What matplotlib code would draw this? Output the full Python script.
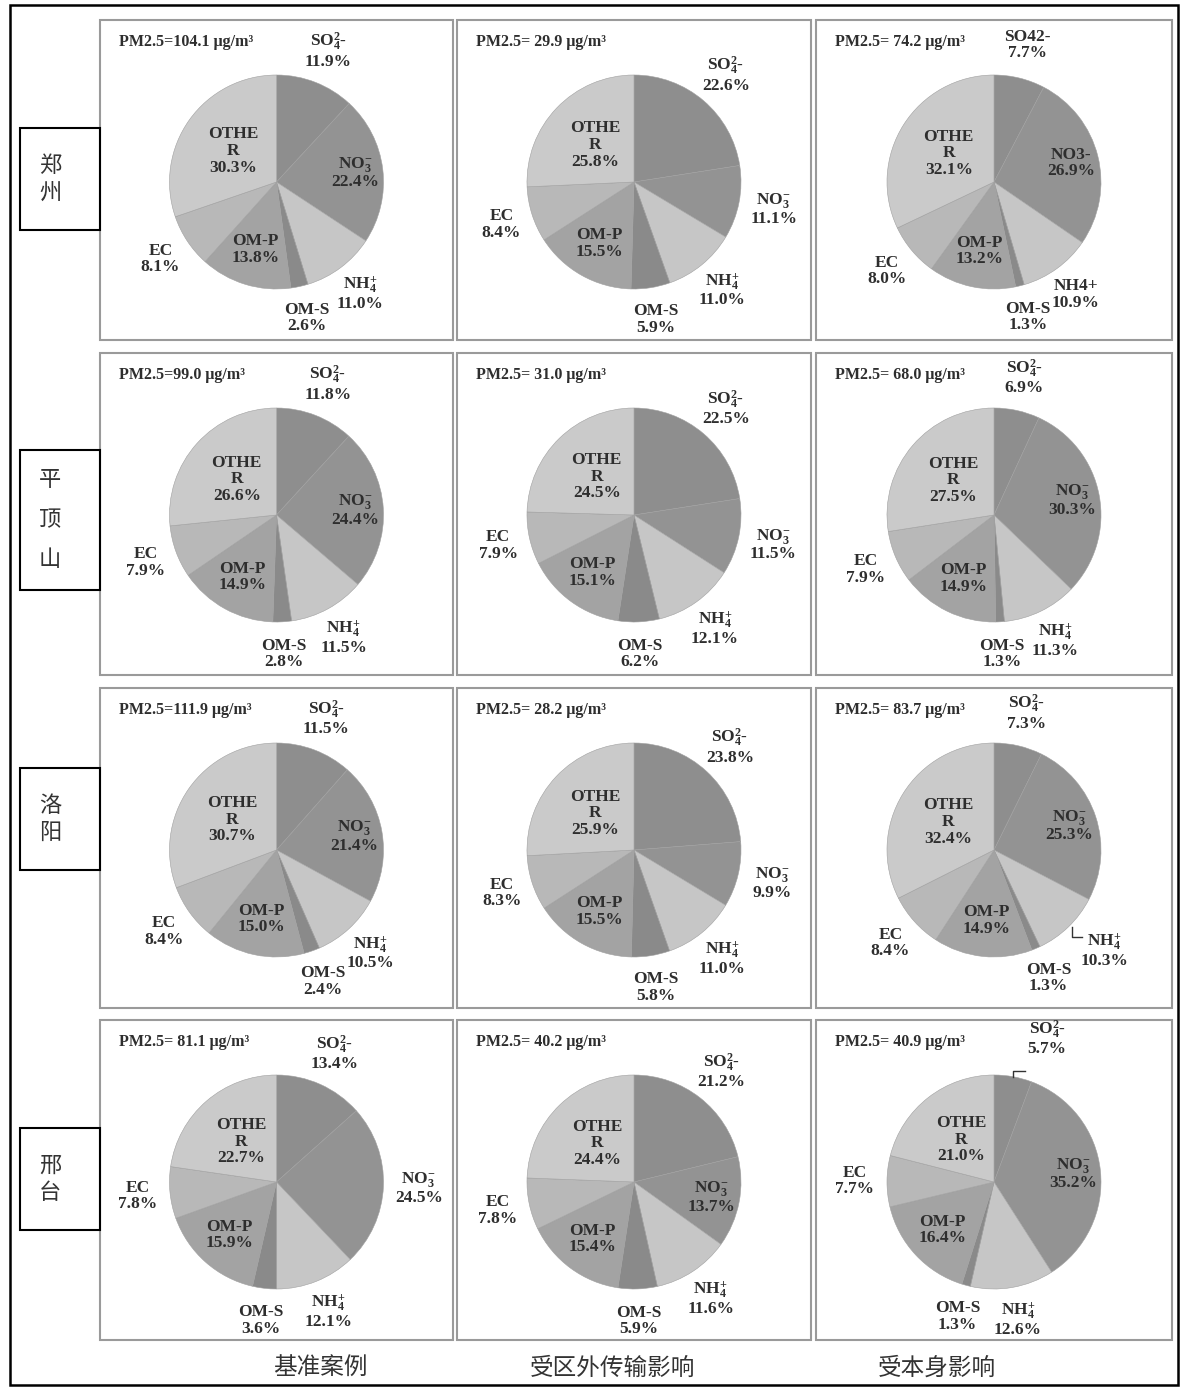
import numpy as np
import matplotlib.pyplot as plt
from matplotlib.patches import Rectangle

plt.rcParams['font.family'] = ['Liberation Serif', 'DejaVu Serif']
plt.rcParams['mathtext.fontset'] = 'custom'
plt.rcParams['mathtext.rm'] = 'Liberation Serif:bold'
plt.rcParams['mathtext.it'] = 'Liberation Serif:italic:bold'
plt.rcParams['mathtext.bf'] = 'Liberation Serif:bold'

# ---- data ----
cities = ['郑州', '平顶山', '洛阳', '邢台']
cases = ['基准案例', '受区外传输影响', '受本身影响']
components = ['SO4', 'NO3', 'NH4', 'OM-S', 'OM-P', 'EC', 'OTHER']

pm25_zhengzhou = [104.1, 29.9, 74.2]
pm25_pingdingshan = [99.0, 31.0, 68.0]
pm25_luoyang = [111.9, 28.2, 83.7]
pm25_xingtai = [81.1, 40.2, 40.9]

# shares in % (SO4, NO3, NH4, OM-S, OM-P, EC, OTHER) for each case
zhengzhou = [[11.9, 22.4, 11.0, 2.6, 13.8, 8.1, 30.3],
             [22.6, 11.1, 11.0, 5.9, 15.5, 8.4, 25.8],
             [7.7, 26.9, 10.9, 1.3, 13.2, 8.0, 32.1]]
pingdingshan = [[11.8, 24.4, 11.5, 2.8, 14.9, 7.9, 26.6],
                [22.5, 11.5, 12.1, 6.2, 15.1, 7.9, 24.5],
                [6.9, 30.3, 11.3, 1.3, 14.9, 7.9, 27.5]]
luoyang = [[11.5, 21.4, 10.5, 2.4, 15.0, 8.4, 30.7],
           [23.8, 9.9, 11.0, 5.8, 15.5, 8.3, 25.9],
           [7.3, 25.3, 10.3, 1.3, 14.9, 8.4, 32.4]]
xingtai = [[13.4, 24.5, 12.1, 3.6, 15.9, 7.8, 22.7],
           [21.2, 13.7, 11.6, 5.9, 15.4, 7.8, 24.4],
           [5.7, 35.2, 12.6, 1.3, 16.4, 7.7, 21.0]]

shares = [zhengzhou, pingdingshan, luoyang, xingtai]
pm25 = [pm25_zhengzhou, pm25_pingdingshan, pm25_luoyang, pm25_xingtai]

# ---- style / layout ----
W, H = 1184, 1387
colors = ['#8e8e8e', '#939393', '#c6c6c6', '#8a8a8a', '#a3a3a3', '#b8b8b8', '#cacaca']
names = {'SO4': r'SO$_4^{2}$-', 'NO3': r'NO$_3^{-}$', 'NH4': r'NH$_4^{+}$',
         'OM-S': 'OM-S', 'OM-P': 'OM-P', 'EC': 'EC', 'OTHER': 'OTHE\nR'}
plain_names = {'SO4': 'SO42-', 'NO3': 'NO3-', 'NH4': 'NH4+'}
rfac = {'SO4': 1.32, 'NO3': 0.74, 'NH4': 1.3, 'OM-S': 1.3, 'OM-P': 0.66, 'EC': 1.3, 'OTHER': 0.5}
no3_outside = {(0, 1), (1, 1), (2, 1), (3, 0)}
leaders = {(2, 2, 'NH4'): (14, 0), (3, 2, 'SO4'): (28, 5)}

col_x = [(100, 453), (457, 811), (816, 1172)]
row_y = [(20, 340), (353, 675), (688, 1008), (1020, 1340)]
R = 107
txt_c = '#2e2e2e'


def Y(py):
    return H - py


fig = plt.figure(figsize=(W / 100, H / 100), dpi=100)
ax = fig.add_axes([0, 0, 1, 1])

for i in range(4):
    for j in range(3):
        vals = shares[i][j]
        x0, x1 = col_x[j]
        y0, y1 = row_y[i]
        ax.add_patch(Rectangle((x0, Y(y1)), x1 - x0, y1 - y0, fill=False,
                               ec='#9a9a9a', lw=1.5, zorder=1))
        cx, cy = (x0 + x1) / 2, Y(y0 + 162)
        wedges, _ = ax.pie(vals, colors=colors, startangle=90, counterclock=False,
                           center=(cx, cy), radius=R,
                           wedgeprops=dict(edgecolor='#a0a0a0', linewidth=0.4))
        sep = '=' if (j == 0 and i < 3) else '= '
        ax.text(x0 + 19, Y(y0 + 22), f'PM2.5{sep}{pm25[i][j]:.1f} μg/m³',
                fontsize=11.5, fontweight='bold', color=txt_c, ha='left', va='center')
        for k, (w, comp) in enumerate(zip(wedges, components)):
            ang = np.deg2rad((w.theta1 + w.theta2) / 2)
            f = rfac[comp]
            if comp == 'NO3' and (i, j) in no3_outside:
                f = 1.33
            lx = cx + f * R * np.cos(ang)
            ly = cy + f * R * np.sin(ang)
            if (i, j, comp) in leaders:
                dx, dy = leaders[(i, j, comp)]
                ex, ey = cx + R * np.cos(ang), cy + R * np.sin(ang)
                if comp == 'NH4':
                    ax.plot([ex + 4, ex + 4, ex + 14], [ey, ey - 10, ey - 10], color='#333', lw=1)
                else:
                    ax.plot([ex, ex, ex + 12], [ey, ey + 6, ey + 6], color='#333', lw=1)
                lx += dx
                ly += dy
            name = plain_names.get(comp, names[comp]) if (i, j) == (0, 2) else names[comp]
            ax.text(lx, ly, f'{name}\n{vals[k]:.1f}%', fontsize=12.5, fontweight='bold',
                    color=txt_c, ha='center', va='center', linespacing=1.05)

# row labels
boxes = [(128, 230), (450, 590), (768, 870), (1128, 1230)]
for name, (b0, b1) in zip(cities, boxes):
    ax.add_patch(Rectangle((20, Y(b1)), 80, b1 - b0, fill=False, ec='black', lw=1.5))
    mid = (b0 + b1) / 2
    step = 27 if len(name) == 2 else 40
    for n, ch in enumerate(name):
        yy = mid + (n - (len(name) - 1) / 2) * step
        ax.text(50, Y(yy), ch, fontsize=16, family=['Noto Sans CJK SC'], color='#333',
                ha='center', va='center')

# column labels
for cx, lab in zip([320, 612, 937], cases):
    ax.text(cx, Y(1368), lab, fontsize=17, family=['Noto Sans CJK SC'], color='#333',
            ha='center', va='center')

# outer frame
ax.add_patch(Rectangle((10, Y(1385)), 1168, 1380, fill=False, ec='black', lw=1.8))

ax.set_xlim(0, W)
ax.set_ylim(0, H)
ax.set_aspect('equal')
ax.axis('off')

fig.savefig('out.png', dpi=100)
